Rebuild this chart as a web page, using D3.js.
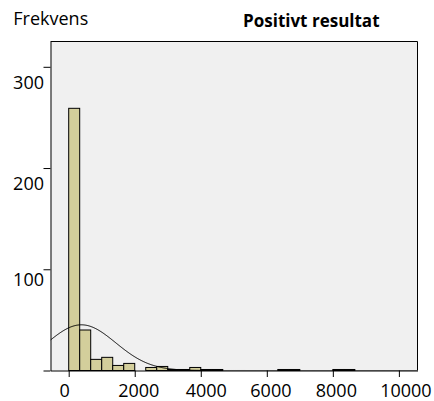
<!DOCTYPE html>
<html>
<head>
<meta charset="utf-8">
<script src="https://cdn.jsdelivr.net/npm/d3@7/dist/d3.min.js"></script>
<style>
  html, body { margin: 0; padding: 0; background: #ffffff; }
  svg { display: block; }
  text { font-family: "Open Sans", "Noto Sans", sans-serif; fill: #000; }
</style>
</head>
<body>
<svg id="chart" width="434" height="401"></svg>
<script>
// ---- data ----
const yTitle = "Frekvens";
const chartTitle = "Positivt resultat";
const binWidth = 10000 / 30;            // histogram bin width
const binCounts = [259, 40, 11, 13, 5, 7, 0, 3, 4, 1, 1, 3, 1, 1,
                   0, 0, 0, 0, 0, 1, 1, 0, 0, 0, 1, 1];
const xTicks = [0, 2000, 4000, 6000, 8000, 10000];
const yTicks = [0, 100, 200, 300];
const yTickLabels = ["", "100", "200", "300"];
const normalMean = 385;                 // fitted normal curve
const normalSD = 1040;
const xDomain = [-551, 10564];
const yDomain = [0, 325];

// ---- layout ----
const svg = d3.select("#chart");
const pLeft = 50.5, pRight = 417.5, pTop = 41.5, pBottom = 370.5;

const x = d3.scaleLinear().domain(xDomain).range([pLeft, pRight]);
const y = d3.scaleLinear().domain(yDomain).range([pBottom, pTop]);

// plot background
svg.append("rect")
  .attr("x", pLeft).attr("y", pTop)
  .attr("width", pRight - pLeft).attr("height", pBottom - pTop)
  .attr("fill", "#f0f0f0").attr("stroke", "none");

svg.append("clipPath").attr("id", "clip")
  .append("rect").attr("x", pLeft).attr("y", pTop)
  .attr("width", pRight - pLeft).attr("height", pBottom - pTop);

// bars
const bins = binCounts.map((c, i) => ({ x0: i * binWidth, x1: (i + 1) * binWidth, n: c }))
  .filter(d => d.n > 0);
svg.append("g")
  .selectAll("rect").data(bins).join("rect")
  .attr("x", d => x(d.x0))
  .attr("y", d => y(d.n))
  .attr("width", d => x(d.x1) - x(d.x0))
  .attr("height", d => y(0) - y(d.n))
  .attr("fill", "#d3ce9b")
  .attr("stroke", "#000")
  .attr("stroke-width", 1);

// normal curve
const total = d3.sum(binCounts);
const pdf = v => total * binWidth / (normalSD * Math.sqrt(2 * Math.PI)) *
  Math.exp(-0.5 * Math.pow((v - normalMean) / normalSD, 2));
const curvePts = d3.range(xDomain[0], xDomain[1] + 1, 20);
svg.append("path")
  .datum(curvePts)
  .attr("clip-path", "url(#clip)")
  .attr("fill", "none")
  .attr("stroke", "#000")
  .attr("stroke-width", 1)
  .attr("d", d3.line().x(v => x(v)).y(v => y(pdf(v))).curve(d3.curveBasis));

// frame (top, right)
svg.append("path")
  .attr("d", `M${pLeft},${pTop}H${pRight}V${pBottom}`)
  .attr("fill", "none").attr("stroke", "#000");

// y axis
const yAxis = d3.axisLeft(y).tickValues(yTicks).tickSize(7)
  .tickFormat((d, i) => yTickLabels[i]).tickSizeOuter(0);
const yg = svg.append("g").attr("transform", `translate(${pLeft},0)`).call(yAxis);
yg.select(".domain").attr("stroke", "#000");
yg.selectAll(".tick line").attr("stroke", "#000");
const yLabelDrop = { 100: 16, 200: 21, 300: 21.5 };
yg.selectAll(".tick text")
  .attr("x", -6.5)
  .attr("dy", null)
  .attr("y", d => yLabelDrop[d] || 0)
  .style("font-size", "18px")
  .style("font-family", "'Open Sans', sans-serif")
  .attr("fill", "#000");

// x axis
const xAxis = d3.axisBottom(x).tickValues(xTicks).tickSize(6.5)
  .tickFormat(d3.format("d")).tickSizeOuter(0);
const xg = svg.append("g").attr("transform", `translate(0,${pBottom})`).call(xAxis);
xg.select(".domain").attr("stroke", "#000");
xg.selectAll(".tick line").attr("stroke", "#000");
const xLabelShift = { 0: -4.5, 2000: 3.5, 4000: 5, 6000: 3.6, 8000: 3, 10000: 6.5 };
xg.selectAll(".tick text")
  .attr("dy", null)
  .attr("y", 26.2)
  .attr("x", d => xLabelShift[d] || 0)
  .style("font-size", "18px")
  .style("font-family", "'Open Sans', sans-serif")
  .attr("fill", "#000");

// titles
svg.append("text")
  .attr("x", 13.3).attr("y", 25)
  .style("font-size", "18px")
  .text(yTitle);

svg.append("text")
  .attr("x", 311.3).attr("y", 26.7)
  .attr("text-anchor", "middle")
  .style("font-size", "17px")
  .style("font-weight", "bold")
  .text(chartTitle);
</script>
</body>
</html>
